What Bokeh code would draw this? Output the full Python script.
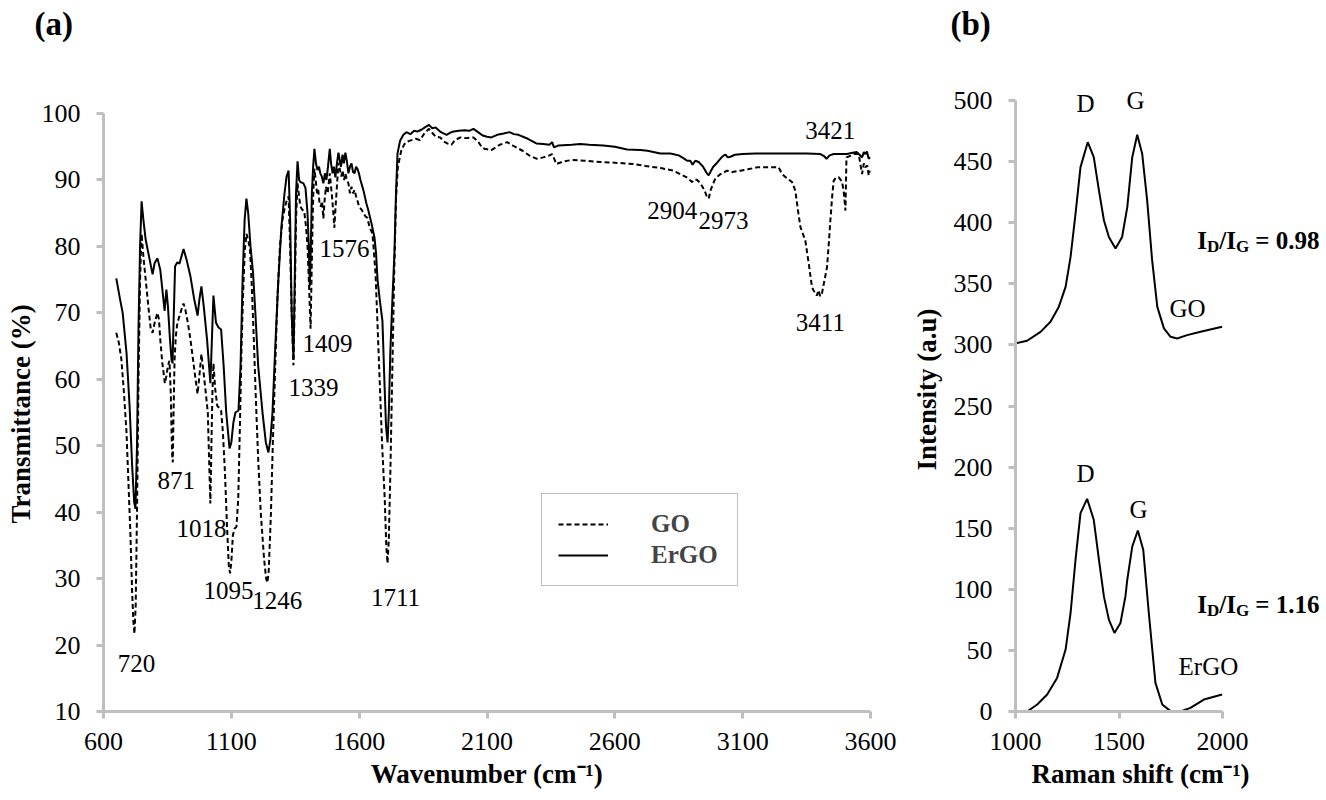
from bokeh.plotting import figure
from bokeh.models import Range1d, Label, Legend, LegendItem, FixedTicker, Title
from bokeh.layouts import row
from bokeh.embed import file_html
from bokeh.resources import INLINE

FONT = "Liberation Serif"

# ---------------- FTIR data (panel a) ----------------
ergo_wn = [650, 665, 675, 690, 702, 712, 720, 725, 731, 737, 743, 749, 756, 765, 778, 792, 800, 811, 822, 833,
           839, 846, 852, 860, 866, 870, 875, 880, 889, 897, 905, 913, 925, 940, 955, 968, 975, 983, 992, 1005,
           1018, 1024, 1030, 1040, 1050, 1060, 1070, 1080, 1093, 1100, 1108, 1116, 1128, 1136, 1144, 1152, 1159,
           1166, 1175, 1185, 1194, 1205, 1222, 1235, 1245, 1253, 1261, 1272, 1284, 1296, 1308, 1316, 1324, 1330,
           1336, 1343, 1348, 1353, 1359, 1365, 1370, 1376, 1382, 1390, 1398, 1403, 1407, 1411, 1415, 1420, 1425,
           1431, 1437, 1443, 1448, 1454, 1460, 1466, 1472, 1478, 1485, 1490, 1496, 1501, 1507, 1513, 1519, 1524,
           1529, 1535, 1540, 1546, 1552, 1558, 1564, 1570, 1576, 1582, 1588, 1593, 1599, 1605, 1617, 1628, 1636,
           1648, 1660, 1666, 1672, 1682, 1691, 1699, 1705, 1711, 1716, 1722, 1730, 1738, 1744, 1750, 1760, 1773,
           1785, 1800, 1815, 1828, 1845, 1860, 1873, 1885, 1899, 1920, 1942, 1955, 1969, 1990, 2013, 2030, 2047,
           2065, 2083, 2100, 2117, 2140, 2165, 2188, 2205, 2223, 2260, 2293, 2320, 2344, 2355, 2362, 2380, 2431,
           2465, 2500, 2555, 2600, 2648, 2700, 2728, 2778, 2817, 2850, 2868, 2883, 2895, 2904, 2915, 2928, 2945,
           2960, 2967, 2975, 2985, 3000, 3015, 3026, 3033, 3042, 3052, 3070, 3100, 3150, 3195, 3250, 3300, 3350,
           3404, 3418, 3428, 3440, 3456, 3490, 3508, 3530, 3547, 3557, 3567, 3574, 3580, 3586, 3593, 3600]
ergo_t = [75.2, 72.0, 70.0, 64.0, 56.0, 47.0, 41.5, 40.5, 50.0, 68.0, 80.0, 86.8, 84.0, 81.0, 78.5, 75.8, 77.5, 78.2, 76.5, 72.5,
          70.3, 73.5, 71.0, 66.0, 63.0, 62.4, 70.0, 77.0, 77.6, 77.4, 78.5, 79.6, 78.0, 75.5, 72.0, 69.6, 72.0, 74.0, 71.0, 66.0,
          59.4, 66.0, 72.6, 68.5, 67.8, 67.5, 62.0, 55.0, 49.6, 50.5, 53.5, 55.0, 55.3, 62.0, 75.0, 84.0, 87.2,
          85.0, 80.0, 76.0, 70.0, 62.0, 55.0, 50.5, 49.0, 51.0, 55.0, 65.0, 75.0, 83.0, 88.0, 90.5, 91.4, 84.0,
          70.0, 63.0, 75.0, 88.0, 92.8, 90.0, 89.7, 89.6, 89.5, 88.8, 85.0, 80.0, 74.0, 80.0, 88.0, 92.0, 94.7,
          92.5, 91.5, 92.0, 91.0, 90.5, 89.5, 91.0, 90.0, 92.0, 94.7, 92.5, 91.0, 92.0, 90.4, 92.5, 94.1, 93.0,
          92.0, 93.8, 92.5, 94.1, 92.8, 91.0, 92.0, 92.5, 91.2, 91.0, 92.0, 91.7, 91.0, 90.0, 88.4, 86.5, 85.4,
          83.5, 81.3, 79.0, 74.9, 71.5, 68.8, 59.4, 53.0, 50.5, 55.0, 64.3, 72.0, 79.0, 88.0, 94.0, 95.9, 96.8,
          97.2, 96.9, 97.4, 97.3, 97.6, 98.0, 98.3, 97.8, 97.9, 97.2, 96.8, 97.1, 97.3, 97.4, 97.5, 97.4, 97.7,
          97.2, 96.7, 96.5, 96.4, 96.8, 97.0, 97.2, 96.9, 96.8, 96.2, 95.5, 95.4, 95.3, 95.7, 94.9, 95.2, 95.3,
          95.4, 95.3, 95.2, 95.0, 94.6, 94.5, 94.4, 94.0, 94.0, 93.7, 93.3, 92.9, 92.9, 92.3, 92.9, 92.7, 92.0,
          91.0, 90.7, 91.3, 92.0, 92.6, 93.3, 93.7, 93.8, 93.4, 93.5, 93.8, 93.9, 94.0, 94.0, 94.0, 94.0, 94.0,
          93.9, 93.6, 93.2, 93.7, 93.9, 93.9, 93.9, 94.1, 94.2, 93.8, 93.4, 94.2, 93.9, 94.3, 93.2, 93.4]

go_wn = [650, 660, 670, 680, 690, 698, 705, 712, 717, 721, 726, 731, 737, 743, 749, 756, 765, 778, 785, 792,
         800, 811, 817, 822, 830, 840, 846, 852, 858, 863, 868, 871, 874, 878, 883, 889, 897, 905, 913, 920,
         930, 940, 950, 960, 968, 975, 983, 990, 1000, 1008, 1013, 1018, 1022, 1026, 1030, 1037, 1045, 1050,
         1060, 1067, 1075, 1083, 1090, 1095, 1100, 1106, 1112, 1120, 1127, 1133, 1140, 1147, 1153, 1159, 1166,
         1173, 1180, 1188, 1195, 1205, 1215, 1228, 1236, 1241, 1246, 1255, 1262, 1270, 1280, 1290, 1300, 1310,
         1317, 1324, 1330, 1336, 1343, 1348, 1353, 1359, 1365, 1370, 1378, 1385, 1392, 1398, 1404, 1410, 1414,
         1418, 1421, 1425, 1430, 1435, 1440, 1445, 1450, 1455, 1460, 1465, 1470, 1477, 1485, 1490, 1495, 1499,
         1503, 1507, 1512, 1519, 1525, 1530, 1535, 1541, 1546, 1552, 1558, 1564, 1570, 1576, 1582, 1588, 1593,
         1600, 1610, 1617, 1625, 1632, 1640, 1652, 1658, 1664, 1670, 1680, 1690, 1700, 1706, 1711, 1716, 1722,
         1730, 1737, 1744, 1751, 1765, 1777, 1790, 1805, 1821, 1838, 1855, 1873, 1888, 1900, 1917, 1930, 1945,
         1961, 1975, 1996, 2020, 2047, 2065, 2080, 2090, 2117, 2150, 2179, 2200, 2239, 2265, 2293, 2320, 2344,
         2355, 2365, 2371, 2400, 2431, 2480, 2544, 2600, 2673, 2720, 2780, 2829, 2860, 2885, 2902, 2912, 2922,
         2935, 2950, 2960, 2967, 2975, 2985, 2993, 3010, 3039, 3060, 3091, 3120, 3156, 3200, 3241, 3254, 3275,
         3293, 3306, 3316, 3326, 3345, 3360, 3371, 3378, 3384, 3390, 3397, 3403, 3410, 3418, 3430, 3437, 3443,
         3450, 3456, 3466, 3476, 3489, 3496, 3502, 3506, 3520, 3535, 3554, 3562, 3567, 3574, 3580, 3587, 3593, 3600]
go_t = [67.0, 65.5, 63.0, 58.0, 52.0, 44.0, 37.0, 28.0, 23.5, 21.7, 26.0, 40.0, 60.0, 75.0, 81.9, 78.5, 75.0, 70.0, 67.5, 67.0,
        68.5, 70.0, 69.0, 66.0, 62.5, 59.4, 60.5, 62.0, 62.8, 58.0, 49.0, 47.5, 55.0, 63.0, 66.5, 68.5, 69.5, 70.5, 71.4, 70.5,
        68.5, 66.0, 63.0, 60.0, 57.8, 60.5, 63.8, 61.5, 58.0, 55.0, 48.0, 41.3, 50.0, 58.0, 62.4, 58.5, 56.0, 55.8,
        55.3, 52.0, 46.0, 38.0, 32.0, 30.8, 32.5, 36.5, 37.5, 37.8, 42.0, 52.0, 65.0, 74.0, 79.5, 81.9, 81.0,
        79.5, 74.0, 66.0, 58.0, 48.0, 40.0, 33.0, 30.0, 29.4, 31.0, 40.0, 50.0, 60.0, 72.0, 80.0, 84.0, 86.0,
        87.0, 87.5, 80.0, 70.0, 62.1, 72.0, 84.0, 89.5, 87.5, 86.0, 85.5, 85.3, 83.0, 80.0, 74.0, 67.6, 76.0,
        84.0, 88.5, 91.7, 90.0, 88.0, 88.5, 86.5, 86.0, 86.8, 84.2, 87.0, 89.0, 88.0, 91.0, 89.0, 87.0, 85.0,
        82.8, 85.5, 88.5, 92.6, 91.5, 90.5, 91.4, 90.0, 91.0, 90.0, 89.5, 88.0, 89.0, 88.0, 88.5, 87.5, 86.9,
        86.0, 85.5, 85.0, 84.5, 84.3, 83.0, 81.9, 79.0, 75.9, 70.0, 60.0, 50.0, 42.0, 35.0, 32.3, 36.0, 46.0,
        62.0, 76.0, 87.0, 91.9, 94.5, 95.4, 95.8, 96.0, 96.2, 96.0, 97.0, 97.7, 97.0, 96.5, 96.4, 95.8, 95.5,
        95.3, 96.0, 96.4, 96.3, 96.4, 95.8, 94.9, 94.7, 94.5, 95.3, 95.7, 95.2, 94.4, 93.7, 93.2, 93.4, 93.7,
        93.9, 93.0, 92.4, 92.8, 93.0, 92.9, 92.7, 92.6, 92.4, 92.1, 91.8, 91.4, 90.8, 90.3, 89.7, 90.1, 90.0,
        89.5, 88.5, 87.5, 87.2, 88.5, 89.5, 90.2, 90.8, 91.4, 91.2, 91.4, 91.6, 91.9, 91.9, 91.9, 90.9, 90.2,
        89.7, 88.4, 85.5, 82.9, 80.9, 77.0, 73.9, 73.3, 73.1, 72.6, 73.4, 72.5, 72.9, 74.5, 76.9, 80.5, 83.9,
        87.5, 89.9, 90.4, 90.4, 89.7, 88.0, 85.4, 93.4, 93.6, 93.9, 93.9, 92.0, 90.9, 92.5, 91.9, 92.2, 90.7, 91.4]

ftir_x_ticks = [600, 1100, 1600, 2100, 2600, 3100, 3600]
ftir_y_ticks = [10, 20, 30, 40, 50, 60, 70, 80, 90, 100]
ftir_peaks = ["720", "871", "1018", "1095", "1246", "1339", "1409", "1576", "1711", "2904", "2973", "3421", "3411"]
ftir_peak_x = [729, 885, 983, 1089, 1280, 1421, 1476, 1543, 1742, 2825, 3025, 3443, 3404]
ftir_peak_y = [17.2, 44.8, 37.5, 28.2, 26.7, 58.8, 65.4, 79.7, 27.2, 85.4, 83.9, 97.4, 68.5]

# ---------------- Raman data (panel b) ----------------
raman_go_x = [1000, 1056, 1121, 1169, 1209, 1242, 1266, 1290, 1314, 1349, 1378, 1403, 1427, 1451, 1483, 1515,
              1540, 1564, 1588, 1612, 1636, 1660, 1685, 1717, 1749, 1781, 1829, 1894, 1998]
raman_go_y = [301.2, 303.4, 310.7, 318.9, 331.1, 347.5, 372.0, 407.4, 445.5, 465.9, 453.6, 426.5, 402.0, 388.3,
              378.8, 388.3, 412.8, 453.6, 472.0, 456.4, 418.3, 369.3, 331.1, 313.5, 306.6, 305.2, 308.0, 310.7, 314.8]
raman_ergo_x = [1056, 1105, 1153, 1201, 1242, 1266, 1290, 1314, 1346, 1378, 1403, 1427, 1451, 1478, 1507, 1531,
                1540, 1564, 1591, 1617, 1644, 1676, 1709, 1749, 1797, 1845, 1910, 1998]
raman_ergo_y = [0.0, 5.7, 13.9, 27.5, 50.7, 80.6, 124.2, 162.3, 174.0, 156.9, 124.2, 94.2, 75.2, 64.3, 72.4, 94.2,
                108.0, 135.0, 148.1, 132.4, 80.6, 23.4, 5.7, 0.3, 0.0, 3.0, 9.8, 13.9]
raman_x_ticks = [1000, 1500, 2000]
raman_y_ticks = [0, 50, 100, 150, 200, 250, 300, 350, 400, 450, 500]
raman_bands = ["D", "G", "D", "G"]
raman_band_x = [1338, 1580, 1338, 1594]
raman_band_y = [497.5, 500, 194.4, 165]
raman_names = ["GO", "ErGO"]
raman_name_x = [1831, 1932]
raman_name_y = [330, 36.8]
ratios = ["0.98", "1.16"]
ratio_y = [385.6, 87.4]
ratio_x = 1878

AXIS_GRAY = "#BFBFBF"


def style(p, xt, yt):
    p.outline_line_color = None
    p.grid.visible = False
    p.background_fill_color = "white"
    p.border_fill_color = "white"
    p.xaxis.ticker = FixedTicker(ticks=xt)
    p.yaxis.ticker = FixedTicker(ticks=yt)
    for ax in (p.xaxis[0], p.yaxis[0]):
        ax.axis_line_color = AXIS_GRAY
        ax.axis_line_width = 3
        ax.major_tick_line_color = AXIS_GRAY
        ax.major_tick_line_width = 3
        ax.major_tick_out = 7
        ax.major_tick_in = 0
        ax.minor_tick_line_color = None
        ax.major_label_text_font = FONT
        ax.major_label_text_font_size = "26px"
        ax.major_label_text_color = "black"
    p.xaxis.major_label_standoff = 14
    p.yaxis.major_label_standoff = 16
    p.title.text_font = FONT
    p.title.text_font_size = "33px"
    p.title.text_font_style = "bold"
    p.title.text_color = "black"
    p.title.align = "left"
    p.title.vertical_align = "top"
    p.title.standoff = 6


def lab(p, x, y, text, size=25, bold=False, align="center", baseline="middle", x_offset=0, y_offset=0):
    p.add_layout(Label(x=x, y=y, text=text, text_font=FONT, text_font_size=f"{size}px",
                       text_font_style="bold" if bold else "normal", text_color="black",
                       text_align=align, text_baseline=baseline,
                       x_offset=x_offset, y_offset=y_offset))


def side_title(text, align, offset, standoff):
    return Title(text=text, align=align, offset=offset, standoff=standoff, text_font=FONT,
                 text_font_size="27px", text_font_style="bold", text_color="black")


# ---------------- Panel (a) ----------------
p1 = figure(width=898, height=800, x_range=Range1d(600, 3600), y_range=Range1d(10, 110.09),
            title="(a)", output_backend="svg", toolbar_location=None,
            min_border_left=103, min_border_right=28, min_border_top=46, min_border_bottom=89)
style(p1, ftir_x_ticks, ftir_y_ticks)
p1.yaxis.bounds = (10, 100)
p1.title.offset = -69
p1.add_layout(side_title("Wavenumber (cm\u207b\u00b9)", "center", 0, 8), "below")
p1.add_layout(side_title("Transmittance (%)", "left", 188, 6), "left")

r_go = p1.line(go_wn, go_t, line_color="black", line_width=2, line_dash="5 3")
r_ergo = p1.line(ergo_wn, ergo_t, line_color="black", line_width=2)

for t, x, y in zip(ftir_peaks, ftir_peak_x, ftir_peak_y):
    lab(p1, x, y, t)

legend = Legend(items=[LegendItem(label="GO", renderers=[r_go]),
                       LegendItem(label="ErGO", renderers=[r_ergo])],
                location=(438, 125), orientation="vertical",
                label_text_font=FONT, label_text_font_style="bold", label_text_font_size="25px",
                border_line_color="#808080", border_line_width=1,
                background_fill_color="white", background_fill_alpha=1.0,
                padding=16, spacing=3, glyph_width=50, label_standoff=43, label_width=70, margin=0)
p1.add_layout(legend)

# ---------------- Panel (b) ----------------
p2 = figure(width=424, height=800, x_range=Range1d(1000, 2483), y_range=Range1d(0, 544.2),
            title="(b)", output_backend="svg", toolbar_location=None,
            min_border_left=117, min_border_right=0, min_border_top=46, min_border_bottom=89)
style(p2, raman_x_ticks, raman_y_ticks)
p2.title.offset = -65
p2.xaxis.bounds = (1000, 2000)
p2.yaxis.bounds = (0, 500)
p2.add_layout(side_title("Raman shift (cm\u207b\u00b9)", "left", 16, 8), "below")
p2.add_layout(side_title("Intensity (a.u)", "left", 241, 18), "left")

p2.line(raman_go_x, raman_go_y, line_color="black", line_width=2)
p2.line(raman_ergo_x, raman_ergo_y, line_color="black", line_width=2)

for t, x, y in zip(raman_bands, raman_band_x, raman_band_y):
    lab(p2, x, y, t)
for t, x, y in zip(raman_names, raman_name_x, raman_name_y):
    lab(p2, x, y, t)

for r, y in zip(ratios, ratio_y):
    lab(p2, ratio_x, y, "I", bold=True, align="left", baseline="alphabetic")
    lab(p2, ratio_x, y, "D", size=17, bold=True, align="left", baseline="alphabetic", x_offset=9.7, y_offset=-6)
    lab(p2, ratio_x, y, "/I", bold=True, align="left", baseline="alphabetic", x_offset=22)
    lab(p2, ratio_x, y, "G", size=17, bold=True, align="left", baseline="alphabetic", x_offset=38.7, y_offset=-6)
    lab(p2, ratio_x, y, "= " + r, bold=True, align="left", baseline="alphabetic", x_offset=58)

layout = row(p1, p2)
open("out.html", "w").write(file_html(layout, INLINE))
